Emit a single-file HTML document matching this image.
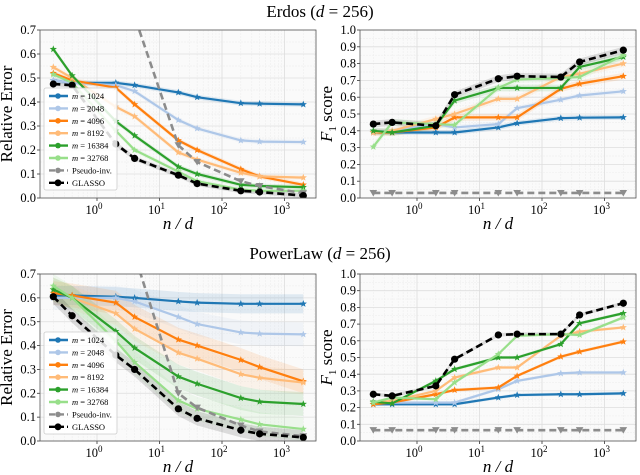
<!DOCTYPE html>
<html><head><meta charset="utf-8"><style>
body{margin:0;background:#fff}
svg{display:block;font-family:"Liberation Serif",serif}
</style></head><body>
<svg id="c" width="640" height="475" viewBox="0 0 640 475" xmlns="http://www.w3.org/2000/svg">
<text x="320" y="17" font-size="17" text-anchor="middle">Erdos (<tspan font-style="italic">d</tspan> = 256)</text>
<text x="320" y="259" font-size="17" text-anchor="middle">PowerLaw (<tspan font-style="italic">d</tspan> = 256)</text>
</svg>
<script>
const xs = [0.2, 0.4, 2, 4, 20, 40, 200, 400, 2000];
const seriesNames = ["m = 1024","m = 2048","m = 4096","m = 8192","m = 16384","m = 32768","Pseudo-inv.","GLASSO"];
const erdosErr = [
 [0.49,0.48,0.48,0.47,0.44,0.42,0.395,0.393,0.39],
 [0.49,0.48,0.47,0.445,0.325,0.29,0.24,0.235,0.233],
 [0.52,0.49,0.46,0.39,0.24,0.2,0.12,0.09,0.055],
 [0.545,0.5,0.38,0.34,0.19,0.16,0.105,0.09,0.085],
 [0.62,0.51,0.32,0.26,0.13,0.1,0.055,0.05,0.045],
 [0.515,0.48,0.28,0.2,0.11,0.07,0.035,0.03,0.03],
 [6,4,2,0.756,0.22,0.15,0.07,0.05,0.02],
 [0.475,0.47,0.225,0.165,0.095,0.06,0.03,0.025,0.01]];
const erdosF1 = [
 [0.39,0.39,0.39,0.39,0.42,0.445,0.475,0.478,0.48],
 [0.4,0.4,0.44,0.42,0.44,0.535,0.585,0.61,0.635],
 [0.39,0.39,0.42,0.48,0.48,0.48,0.65,0.68,0.725],
 [0.39,0.4,0.47,0.5,0.59,0.59,0.72,0.74,0.8],
 [0.4,0.39,0.43,0.58,0.655,0.655,0.655,0.78,0.84],
 [0.305,0.45,0.44,0.435,0.655,0.705,0.715,0.72,0.85],
 [0.03,0.03,0.03,0.03,0.03,0.03,0.03,0.03,0.03],
 [0.44,0.45,0.43,0.615,0.71,0.725,0.72,0.81,0.88]];
const plErr = [
 [0.61,0.61,0.605,0.6,0.585,0.58,0.575,0.575,0.575],
 [0.6,0.6,0.6,0.585,0.52,0.49,0.455,0.45,0.447],
 [0.62,0.61,0.58,0.52,0.425,0.4,0.34,0.31,0.25],
 [0.635,0.6,0.535,0.47,0.37,0.345,0.28,0.265,0.245],
 [0.635,0.6,0.46,0.39,0.27,0.24,0.18,0.165,0.155],
 [0.65,0.6,0.42,0.33,0.17,0.135,0.09,0.07,0.05],
 [6,4,2,0.78,0.2,0.14,0.065,0.04,0.02],
 [0.605,0.525,0.36,0.3,0.135,0.095,0.045,0.03,0.015]];
const plF1 = [
 [0.22,0.22,0.22,0.22,0.26,0.275,0.28,0.28,0.285],
 [0.23,0.23,0.23,0.23,0.31,0.36,0.405,0.41,0.41],
 [0.22,0.23,0.28,0.305,0.32,0.39,0.505,0.535,0.595],
 [0.23,0.24,0.3,0.38,0.44,0.44,0.63,0.655,0.68],
 [0.235,0.225,0.36,0.43,0.5,0.5,0.58,0.705,0.765],
 [0.23,0.26,0.25,0.35,0.52,0.63,0.64,0.635,0.74],
 [0.065,0.065,0.065,0.065,0.065,0.065,0.065,0.065,0.065],
 [0.28,0.27,0.33,0.49,0.635,0.64,0.64,0.755,0.825]];
const erdosErrBand = [0.01,0.01,0.01,0.01,0.01,0.01,0,0.01];
const erdosF1Band = [0.015,0.015,0.02,0.02,0.02,0.02,0,0.02];
const plErrBand = [0.04,0.05,0.05,0.05,0.05,0.05,0,0.03];
const plF1Band = [0.01,0.01,0.01,0.01,0.01,0.01,0,0.01];
const errTicks = [0,0.1,0.2,0.3,0.4,0.5,0.6,0.7];
const f1Ticks = [0,0.1,0.2,0.3,0.4,0.5,0.6,0.7,0.8,0.9,1.0];
const xTickExps = [0,1,2,3];

const colors = ["#1f77b4","#aec7e8","#ff7f0e","#ffbb78","#2ca02c","#98df8a","#8c8c8c","#000"];
const NS="http://www.w3.org/2000/svg";
const svg=document.getElementById('c');
function mk(tag,attrs,parent){const e=document.createElementNS(NS,tag);for(const k in attrs)e.setAttribute(k,attrs[k]);(parent||svg).appendChild(e);return e;}
let clipId=0;
function panel(key,L,R,T,B,ymax,yticks,data,band,ylabel,legend,tickFmt){
  const g=mk('g',{});
  
  
  const x0=L+57; const dec=62.5;
  const X=v=>x0+dec*Math.log10(v);
  const Y=v=>B-(B-T)*v/ymax;
  mk('rect',{x:L,y:T,width:R-L,height:B-T,fill:'#fafafa'},g);
  for(let e=-1;e<4;e++)for(let k=2;k<10;k++){const xv=X(k*Math.pow(10,e));if(xv>L&&xv<R)mk('line',{x1:xv,x2:xv,y1:T,y2:B,stroke:'#ececec','stroke-width':0.5,'stroke-dasharray':'2,1'},g);}
  for(let i=0;i<yticks.length-1;i++){const yv=Y((yticks[i]+yticks[i+1])/2);mk('line',{x1:L,x2:R,y1:yv,y2:yv,stroke:'#ececec','stroke-width':0.5,'stroke-dasharray':'2,1'},g);}
  yticks.forEach(t=>{const yv=Y(t);mk('line',{x1:L,x2:R,y1:yv,y2:yv,stroke:'#dedede','stroke-width':0.8},g);
    const tx=mk('text',{x:L-4,y:yv+4,'font-size':12.5,'text-anchor':'end'},g);tx.textContent=tickFmt(t);
    
    
    mk('line',{x1:L-3,x2:L,y1:yv,y2:yv,stroke:'#333','stroke-width':0.8},g);});
  xTickExps.forEach(e=>{const xv=X(Math.pow(10,e));mk('line',{x1:xv,x2:xv,y1:T,y2:B,stroke:'#dedede','stroke-width':0.8},g);
    mk('line',{x1:xv,x2:xv,y1:B,y2:B+3,stroke:'#333','stroke-width':0.8},g);
    const tx=mk('text',{x:xv-3,y:B+16,'font-size':12.5,'text-anchor':'middle'},g);tx.innerHTML='10<tspan dy="-5" font-size="9">'+e+'</tspan>';
    
    });
  const cid='clip'+(clipId++);
  const cp=mk('clipPath',{id:cid},g);mk('rect',{x:L,y:T,width:R-L,height:B-T},cp);
  const pg=mk('g',{'clip-path':'url(#'+cid+')'},g);
  data.forEach((s,i)=>{ if(band[i]>0){
    let d='';s.forEach((v,j)=>{d+=(j?'L':'M')+X(xs[j])+','+Y(v+band[i]);});
    for(let j=s.length-1;j>=0;j--)d+='L'+X(xs[j])+','+Y(s[j]-band[i]);
    const p=mk('path',{d:d+'Z',fill:colors[i],opacity:0.12},pg);
    
    }});
  data.forEach((s,i)=>{
    const pts=s.map((v,j)=>X(xs[j])+','+Y(v)).join(' ');
    const dash=i>=6?'7,4':'none';
    const pl=mk('polyline',{points:pts,fill:'none',stroke:colors[i],'stroke-width':i>=6?2.6:2.2,'stroke-dasharray':dash},pg);
    
    
    s.forEach((v,j)=>{const cx=X(xs[j]),cy=Y(v);let m;
      if(i==7)m=mk('circle',{cx:cx,cy:cy,r:3.6,fill:'#000'},pg);
      else if(i==6)m=mk('polygon',{points:(cx-3.8)+','+(cy-3)+' '+(cx+3.8)+','+(cy-3)+' '+cx+','+(cy+3.5),fill:colors[i]},pg);
      else{let p='';for(let k=0;k<10;k++){const r=k%2?1.6:3.8,a=-Math.PI/2+k*Math.PI/5;p+=(cx+r*Math.cos(a))+','+(cy+r*Math.sin(a))+' ';}m=mk('polygon',{points:p,fill:colors[i]},pg);}
      
      });
  });
  mk('rect',{x:L,y:T,width:R-L,height:B-T,fill:'none',stroke:'#555','stroke-width':0.8},g);
  const yl=mk('text',{x:0,y:0,'font-size':17,'text-anchor':'middle',transform:'translate('+(L-28)+','+((T+B)/2)+') rotate(-90)'},g);
  yl.innerHTML=ylabel;
  
  
  const xl=mk('text',{x:(L+R)/2,y:B+31,'font-size':17,'text-anchor':'middle','font-style':'italic'},g);
  xl.textContent='n / d';
  
  
  if(legend){
    const lg=mk('g',{},g);
    
    
    const lx=L+4,ly=legend;
    mk('rect',{x:lx,y:ly,width:73,height:102,fill:'#fff','fill-opacity':0.85,stroke:'#ccc','stroke-width':0.8,rx:2},lg);
    seriesNames.forEach((n,i)=>{const yy=ly+8+i*12.4;
      mk('line',{x1:lx+5,x2:lx+24,y1:yy,y2:yy,stroke:colors[i],'stroke-width':2.4,'stroke-dasharray':i>=6?'6,3':'none'},lg);
      mk('circle',{cx:lx+14,cy:yy,r:i==7?3.4:2.8,fill:colors[i]},lg);
      const t=mk('text',{x:lx+28,y:yy+3,'font-size':8.5},lg);
      t.innerHTML=i<6?'<tspan font-style="italic">m</tspan>'+n.slice(1):n;
      
      });
  }
}
const f1=t=>t.toFixed(1);
const f1lab='<tspan font-style="italic">F</tspan><tspan font-size="11" dy="4">1</tspan><tspan dy="-4"> score</tspan>';
panel('erdos-error',40,316,30,198,0.7,errTicks,erdosErr,erdosErrBand,'Relative Error',88,f1);
panel('erdos-f1',360,636,30,198,1.0,f1Ticks,erdosF1,erdosF1Band,f1lab,null,f1);
panel('powerlaw-error',40,316,274,441,0.7,errTicks,plErr,plErrBand,'Relative Error',332,f1);
panel('powerlaw-f1',360,636,274,441,1.0,f1Ticks,plF1,plF1Band,f1lab,null,f1);
</script>
</body></html>
